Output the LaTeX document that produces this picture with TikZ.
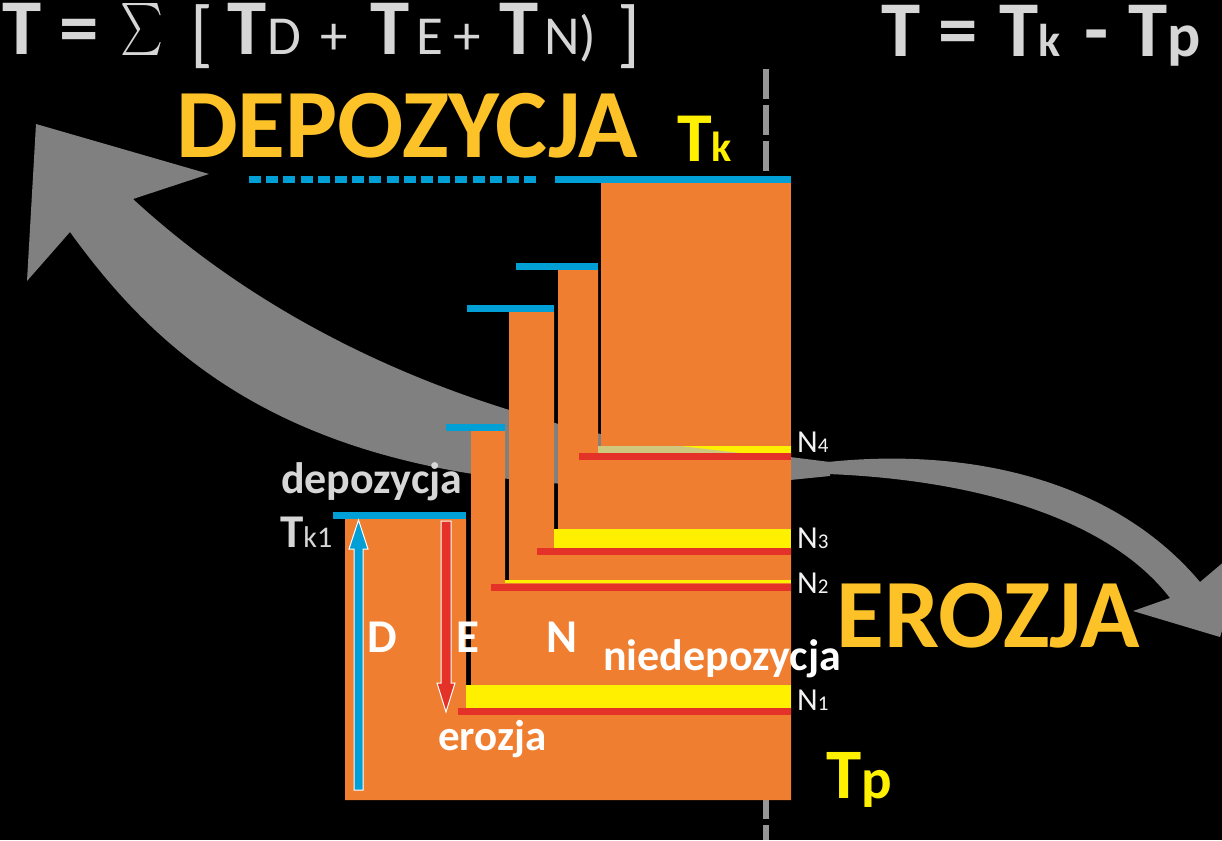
\documentclass[tikz,border=0pt]{standalone}
\usepackage{fontspec}
\setmainfont{Carlito}
\usepackage{graphicx}
\usetikzlibrary{calc}

\definecolor{layorange}{RGB}{240,126,48}
\definecolor{topblue}{RGB}{0,160,214}
\definecolor{erored}{RGB}{228,50,40}
\definecolor{gapyellow}{RGB}{255,240,0}
\definecolor{titlegold}{RGB}{252,194,40}
\definecolor{arrowgray}{RGB}{128,128,128}
\definecolor{textgray}{RGB}{214,214,214}
\definecolor{mixkhaki}{RGB}{207,201,128}
\definecolor{dashgray}{RGB}{150,150,150}

\newcommand{\fsz}[1]{\fontsize{#1}{#1}\selectfont}

\tikzset{
  txt/.style={inner sep=0, anchor=base west},
  formula/.style={txt, text=textgray, font=\bfseries\fsz{79}},
  subf/.style={txt, text=textgray, font=\fsz{55}},
  nlabel/.style={txt, text=white!90!gray, font=\fsz{32}},
  white label/.style={txt, text=white, font=\bfseries\fsz{44}},
  blueline/.style={topblue, line width=7pt},
  redline/.style={erored, line width=7pt},
}

\begin{document}
\begin{tikzpicture}[x=1pt, y=-1pt]
    \useasboundingbox (0,0) rectangle (1222,840);
    \fill[black] (0,0) rectangle (1222,840);
    % vertical dashed line
    \draw[dashgray, line width=6pt, dash pattern=on 30pt off 6pt] (766,69) -- (766,840);
    % gray arrows
    \fill[arrowgray] (830,462) -- (790,457) .. controls (620,455) and (340,390) .. (133,199)
      -- (209,174) -- (36,124) -- (27,281) -- (70,232)
      .. controls (170,370) and (330,520) .. (790,480) -- (830,476) -- cycle;
    \begin{scope}
      \clip (0,0) rectangle (1222,840);
      \fill[arrowgray] (828,462) .. controls (960,448) and (1110,475) .. (1200,582)
        -- (1252,538) -- (1220,637) -- (1133,611) -- (1170,598)
        .. controls (1110,520) and (980,480) .. (828,474) -- cycle;
    \end{scope}
    % orange layers
    \fill[layorange] (345,519) -- (466,519) -- (466,685) -- (791,685) -- (791,800) -- (345,800) -- cycle;
    \fill[layorange] (471,431) -- (505,431) -- (505,583) -- (791,583) -- (791,685) -- (471,685) -- cycle;
    \fill[layorange] (509,312) -- (554,312) -- (554,548) -- (791,548) -- (791,580) -- (509,580) -- cycle;
    \fill[layorange] (558,269) -- (598,269) -- (598,446) -- (791,446) -- (791,529) -- (558,529) -- cycle;
    \fill[layorange] (601,183) rectangle (791,446);
    % non-deposition gaps
    \fill[gapyellow] (598,446) rectangle (791,453);
    \fill[mixkhaki] (598,446) -- (680,446) -- (740,453) -- (598,453) -- cycle;
    \fill[gapyellow] (554,529) rectangle (791,548);
    \fill[gapyellow] (505,580) rectangle (791,583);
    \fill[gapyellow] (466,685) rectangle (791,708);
    % erosion surfaces
    \draw[redline] (579,456.5) -- (791,456.5);
    \draw[redline] (537,551.5) -- (791,551.5);
    \draw[redline] (491,587) -- (791,587);
    \draw[redline] (458,711.5) -- (791,711.5);
    % tops of deposition
    \draw[blueline] (333,515.5) -- (466,515.5);
    \draw[blueline] (446,427.5) -- (505,427.5);
    \draw[blueline] (467,308.5) -- (554,308.5);
    \draw[blueline] (516,266) -- (598,266);
    \draw[blueline] (555,179.5) -- (791,179.5);
    \draw[blueline, dash pattern=on 12pt off 5.2pt] (249,179.5) -- (541,179.5);
    % D and E arrows
    \filldraw[fill=topblue, draw=white, line width=1pt] (354,790) -- (354,549) -- (349,549) -- (358.5,520) -- (368,549) -- (363,549) -- (363,790) -- cycle;
    \filldraw[fill=erored, draw=white, line width=1pt] (441,521) -- (451,521) -- (451,683) -- (455,683) -- (446,712) -- (437,683) -- (441,683) -- cycle;
    % formulas
    \node[formula] (fT0) at (2,55) {T};
    \node[formula] (fEq) at (59,55) {=};
    \node[inner sep=0, anchor=north west, text=textgray] (fSum) at (120,3) {\resizebox*{43pt}{52pt}{$\sum$}};
    \node[inner sep=0, anchor=north west, text=textgray] (fBrL) at (190,4) {\resizebox*{!}{64pt}{\fsz{70}[}};
    \node[formula] (fTD) at (227,55) {T};
    \node[subf] (fD) at (267,55) {D};
    \node[subf] (fPlusA) at (320,55) {+};
    \node[formula] (fTE) at (370,55) {T};
    \node[subf] (fE) at (416,55) {E};
    \node[subf] (fPlusB) at (453,55) {+};
    \node[formula] (fTN) at (499,55) {T};
    \node[subf] (fN) at (544,55) {N)};
    \node[inner sep=0, anchor=north west, text=textgray] (fBrR) at (617,4) {\resizebox*{!}{64pt}{\fsz{70}]}};
    \node[formula] (gT) at (881,57) {T};
    \node[formula] (gEq) at (938,57) {=};
    \node[formula] (gTk) at (999,57) {T\fsz{46}k};
    \node[formula] (gMinus) at (1084,57) {-};
    \node[formula] (gTp) at (1128,57) {T\fsz{62}p};
    % big titles
    \node[txt, text=titlegold, font=\bfseries\fsz{98}] (depTitle) at (176,157) {DEPOZYCJA};
    \node[txt, text=titlegold, font=\bfseries\fsz{98}] (eroTitle) at (836,647) {EROZJA};
    \node[txt, text=gapyellow, font=\bfseries\fsz{70}] (tkLabel) at (677,161) {T\fsz{42}k};
    \node[txt, text=gapyellow, font=\bfseries\fsz{71}] (tpLabel) at (826,798) {T\fsz{57}p};
    % small labels
    \node[txt, text=textgray, font=\bfseries\fsz{44}] (depSmall) at (281,493) {depozycja};
    \node[txt, text=textgray, font=\bfseries\fsz{47}] (tk1Label) at (280,547) {T\mdseries\fsz{30}k1};
    \node[white label, font=\bfseries\fsz{47}] (dLabel) at (367,652) {D};
    \node[white label, font=\bfseries\fsz{47}] (eLabel) at (456,652) {E};
    \node[white label, font=\bfseries\fsz{47}] (nLabel) at (546,652) {N};
    \node[white label] (nieLabel) at (603,670) {niedepozycja};
    \node[white label, font=\bfseries\fsz{43}] (eroSmall) at (438,750) {erozja};
    \node[nlabel] (nFour) at (797,452) {N\fsz{21}4};
    \node[nlabel] (nThree) at (797,548) {N\fsz{21}3};
    \node[nlabel] (nTwo) at (797,593) {N\fsz{21}2};
    \node[nlabel] (nOne) at (797,710) {N\fsz{21}1};
\end{tikzpicture}
\end{document}
